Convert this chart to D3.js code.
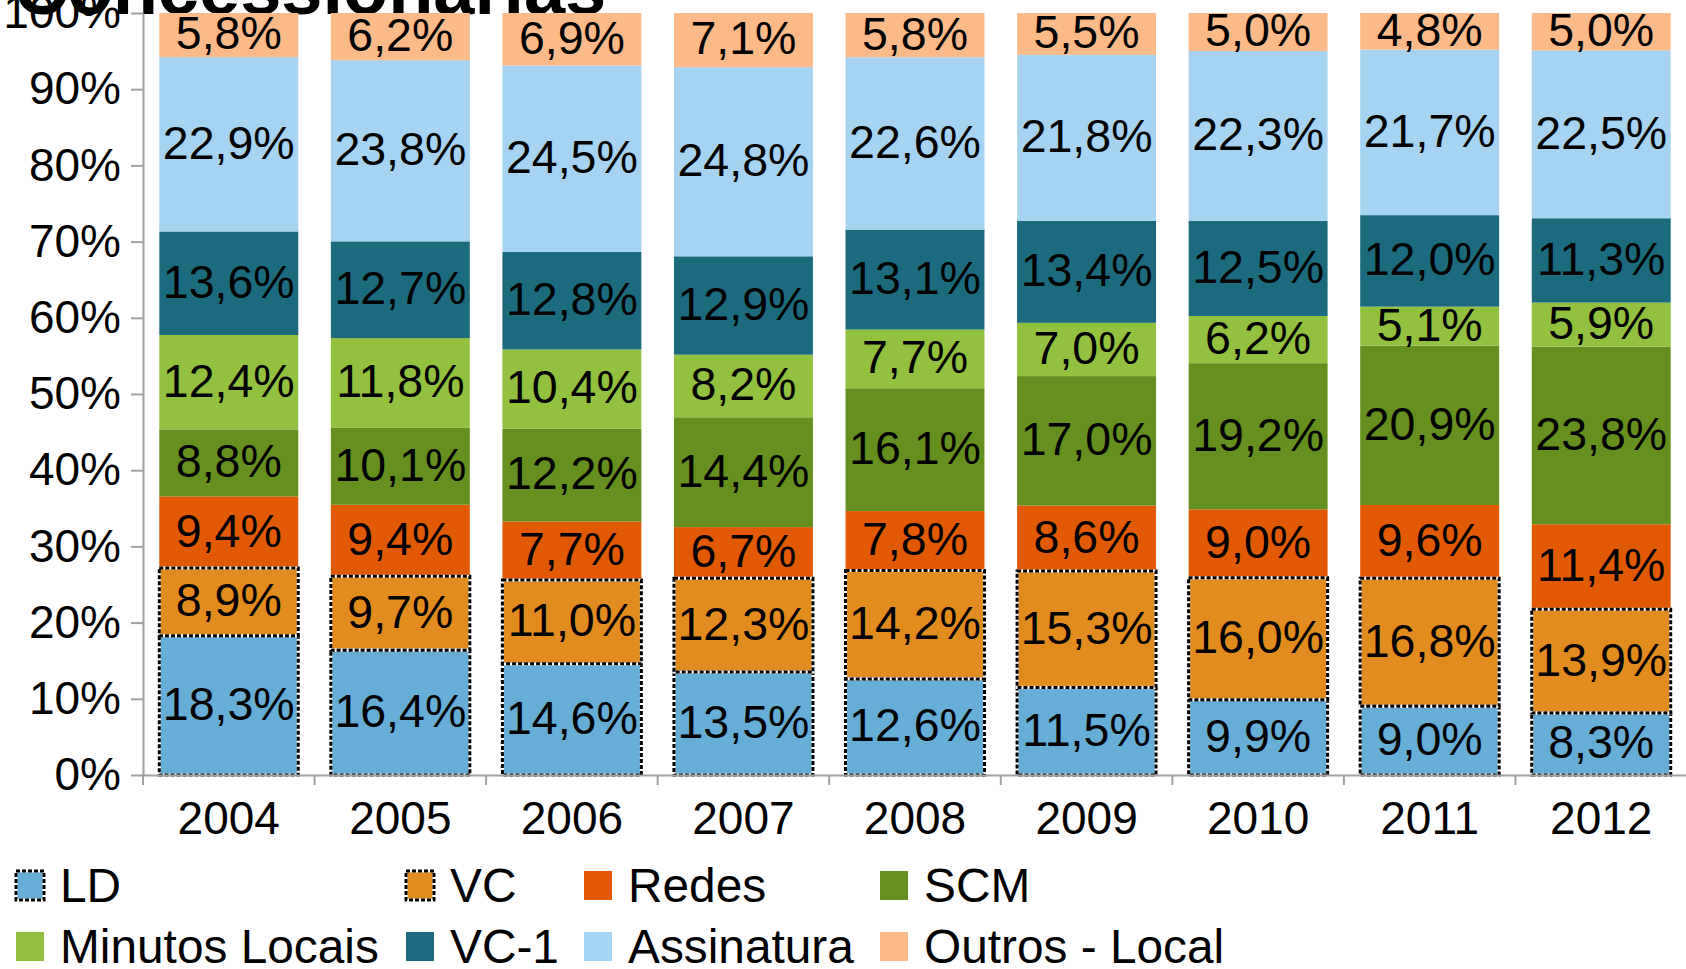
<!DOCTYPE html>
<html><head><meta charset="utf-8">
<script src="https://cdn.jsdelivr.net/npm/d3@7/dist/d3.min.js"></script>
<style>
body{margin:0;background:#fff;overflow:hidden;}
svg{display:block;font-family:"Liberation Sans",Arial,Helvetica,sans-serif;}
</style>
</head><body>
<svg id="chart" width="1686" height="969"></svg>
<script>
const years = ["2004","2005","2006","2007","2008","2009","2010","2011","2012"];
const seriesNames = ["LD","VC","Redes","SCM","Minutos Locais","VC-1","Assinatura","Outros - Local"];
const LD        = [18.3,16.4,14.6,13.5,12.6,11.5, 9.9, 9.0, 8.3];
const VC        = [ 8.9, 9.7,11.0,12.3,14.2,15.3,16.0,16.8,13.9];
const Redes     = [ 9.4, 9.4, 7.7, 6.7, 7.8, 8.6, 9.0, 9.6,11.4];
const SCM       = [ 8.8,10.1,12.2,14.4,16.1,17.0,19.2,20.9,23.8];
const MinLocais = [12.4,11.8,10.4, 8.2, 7.7, 7.0, 6.2, 5.1, 5.9];
const VC1       = [13.6,12.7,12.8,12.9,13.1,13.4,12.5,12.0,11.3];
const Assinatura= [22.9,23.8,24.5,24.8,22.6,21.8,22.3,21.7,22.5];
const Outros    = [ 5.8, 6.2, 6.9, 7.1, 5.8, 5.5, 5.0, 4.8, 5.0];
const yTicks = [0,10,20,30,40,50,60,70,80,90,100];
const colors = ["#67aed6","#e28c1f","#e15a03","#65901f","#92c03f","#1c6a7e","#a5d3f1","#fdba89"];
const dashedSeries = ["LD","VC"];
const titleText = "Concessionárias";

(function(){
const seriesValues = [LD,VC,Redes,SCM,MinLocais,VC1,Assinatura,Outros];
const rows = years.map((yr,i)=>{
  const o = {year:yr};
  seriesNames.forEach((s,j)=>o[s]=seriesValues[j][i]);
  return o;
});

const svg = d3.select("#chart");
const FS = 46;
const mLeft = 143, mRight = 1687, mTop = 13, mBottom = 775;

const x = d3.scaleBand().domain(years).range([mLeft,mRight]).paddingInner(0.19).paddingOuter(0.095);
const y = d3.scaleLinear().domain([0,100]).range([mBottom,mTop]);
const color = d3.scaleOrdinal().domain(seriesNames).range(colors);

const stack = d3.stack().keys(seriesNames).offset(d3.stackOffsetExpand);
const stacked = stack(rows);

// title (clipped at top)
svg.append("text").attr("x",14).attr("y",14)
  .attr("font-size",74).attr("font-weight","bold").attr("fill","#000")
  .text(titleText);

// bars
const g = svg.append("g");
stacked.forEach(layer=>{
  const key = layer.key;
  g.append("g").selectAll("rect").data(layer).join("rect")
    .attr("x",d=>x(d.data.year))
    .attr("width",x.bandwidth())
    .attr("y",d=>y(d[1]*100))
    .attr("height",d=>y(d[0]*100)-y(d[1]*100))
    .attr("fill",color(key));
});
// dashed borders for LD and VC
stacked.filter(l=>dashedSeries.includes(l.key)).forEach(layer=>{
  ["#fff","#000"].forEach((c,k)=>{
    g.append("g").selectAll("rect").data(layer).join("rect")
      .attr("x",d=>x(d.data.year))
      .attr("width",x.bandwidth())
      .attr("y",d=>y(d[1]*100))
      .attr("height",d=>y(d[0]*100)-y(d[1]*100))
      .attr("fill","none").attr("stroke",c).attr("stroke-width",3)
      .attr("stroke-dasharray",k? "4,2":null);
  });
});

// labels
const fmt = v=>v.toFixed(1).replace(".",",")+"%";
stacked.forEach(layer=>{
  g.append("g").selectAll("text").data(layer).join("text")
    .attr("x",d=>x(d.data.year)+x.bandwidth()/2)
    .attr("y",d=>(y(d[0]*100)+y(d[1]*100))/2)
    .attr("dy","0.31em")
    .attr("text-anchor","middle")
    .attr("font-size",46.5).attr("fill","#000")
    .text(d=>fmt(d.data[layer.key]));
});

// y axis
const yAxis = svg.append("g").attr("transform",`translate(${mLeft},0)`)
  .call(d3.axisLeft(y).tickValues(yTicks).tickFormat(d=>d+"%").tickSize(12).tickSizeOuter(0).tickPadding(10));
yAxis.selectAll("text").attr("font-size",FS).attr("fill","#000").attr("font-family","Liberation Sans, Arial, sans-serif");
yAxis.selectAll("line,path").attr("stroke","#a0a0a0").attr("stroke-width",2);

// x axis
const xAxis = svg.append("g").attr("transform",`translate(0,${mBottom})`)
  .call(d3.axisBottom(x).tickSize(0).tickSizeOuter(0).tickPadding(26));
xAxis.selectAll("text").attr("font-size",FS).attr("fill","#000").attr("font-family","Liberation Sans, Arial, sans-serif");
xAxis.select("path").attr("stroke","#a0a0a0").attr("stroke-width",2);
const bounds = years.map(yr=>x(yr)-x.step()*x.paddingInner()/2);
xAxis.selectAll("line.sep").data(bounds).join("line").attr("class","sep")
  .attr("x1",d=>d).attr("x2",d=>d).attr("y1",0).attr("y2",10)
  .attr("stroke","#a0a0a0").attr("stroke-width",2);

// legend
const legCols = [16,406,584,880];
const legRows = [885,946];
const leg = svg.append("g");
seriesNames.forEach((s,i)=>{
  const cx = legCols[i%4], cy = legRows[Math.floor(i/4)];
  const item = leg.append("g").attr("transform",`translate(${cx},${cy})`);
  item.append("rect").attr("x",0).attr("y",-14).attr("width",28).attr("height",29).attr("fill",color(s));
  if(dashedSeries.includes(s)){
    item.append("rect").attr("x",0).attr("y",-14).attr("width",28).attr("height",29)
      .attr("fill","none").attr("stroke","#fff").attr("stroke-width",3);
    item.append("rect").attr("x",0).attr("y",-14).attr("width",28).attr("height",29)
      .attr("fill","none").attr("stroke","#000").attr("stroke-width",3).attr("stroke-dasharray","4,2");
  }
  item.append("text").attr("x",44).attr("y",0).attr("dy","0.36em")
    .attr("font-size",47.8).attr("fill","#000").text(s);
});
})();
</script>
</body></html>
